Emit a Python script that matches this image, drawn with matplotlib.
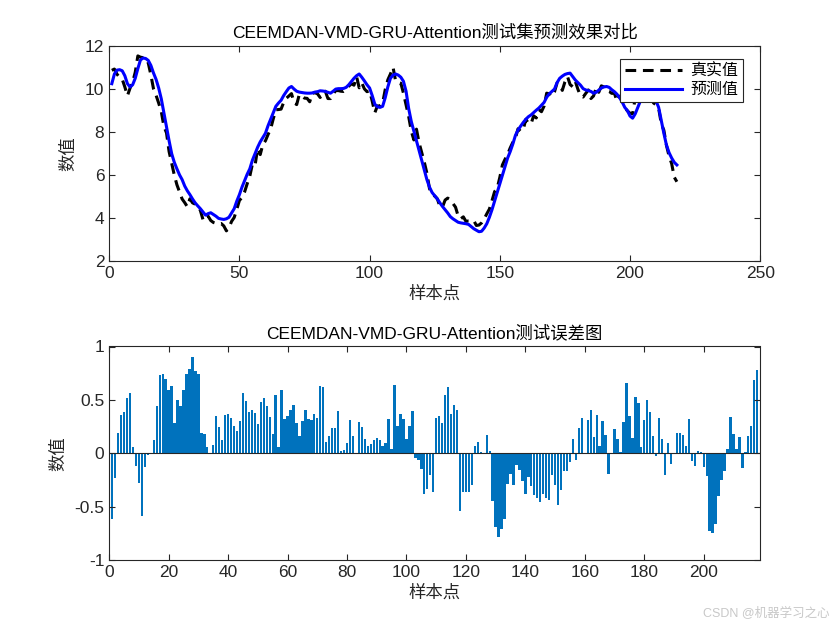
import numpy as np
import matplotlib.pyplot as plt

plt.rcParams['font.family'] = ['Liberation Sans', 'Noto Sans CJK SC', 'DejaVu Sans']
plt.rcParams['axes.unicode_minus'] = False

# values (samples 1..218)
pred_vals = [
    10.25, 10.70, 10.88, 10.90, 10.85, 10.62, 10.25, 10.10, 10.20, 10.50,
    10.95, 11.35, 11.44, 11.42, 11.33, 11.10, 10.75, 10.45, 10.05, 9.55,
    8.90, 8.25, 7.60, 7.00, 6.60, 6.30, 6.02, 5.80, 5.50, 5.28,
    5.10, 4.90, 4.72, 4.58, 4.45, 4.30, 4.15, 4.22, 4.26, 4.18,
    4.10, 4.00, 3.97, 3.95, 3.98, 4.05, 4.25, 4.45, 4.80, 5.10,
    5.45, 5.75, 6.05, 6.30, 6.70, 7.00, 7.30, 7.55, 7.75, 7.95,
    8.30, 8.60, 8.90, 9.20, 9.35, 9.48, 9.70, 9.88, 10.05, 10.12,
    10.00, 9.90, 9.86, 9.84, 9.82, 9.81, 9.81, 9.82, 9.86, 9.88,
    9.92, 9.91, 9.89, 9.85, 9.81, 9.90, 10.00, 10.02, 10.02, 10.03,
    10.08, 10.20, 10.35, 10.50, 10.62, 10.70, 10.55, 10.38, 10.20, 10.05,
    9.70, 9.30, 9.18, 9.15, 9.20, 9.60, 10.10, 10.50, 10.65, 10.70,
    10.65, 10.55, 10.36, 9.90, 9.10, 8.50, 8.05, 7.60, 7.15, 6.70,
    6.25, 5.80, 5.45, 5.20, 5.05, 4.90, 4.72, 4.55, 4.40, 4.25,
    4.08, 3.98, 3.90, 3.82, 3.79, 3.77, 3.75, 3.72, 3.62, 3.52,
    3.45, 3.38, 3.40, 3.55, 3.75, 4.05, 4.40, 4.80, 5.20, 5.60,
    6.00, 6.40, 6.80, 7.10, 7.45, 7.85, 8.10, 8.28, 8.45, 8.60,
    8.72, 8.80, 8.91, 9.02, 9.12, 9.25, 9.38, 9.62, 9.78, 9.89,
    10.00, 10.30, 10.50, 10.60, 10.68, 10.72, 10.74, 10.58, 10.42, 10.30,
    10.18, 10.02, 9.96, 9.93, 9.89, 9.81, 9.85, 9.95, 10.05, 10.10,
    10.12, 10.08, 9.97, 9.88, 9.76, 9.60, 9.40, 9.15, 9.00, 8.75,
    8.65, 8.85, 9.15, 9.45, 9.70, 9.85, 9.90, 9.85, 9.70, 9.45,
    9.15, 8.55, 7.95, 7.40, 7.05, 6.80, 6.60, 6.48,
]

true_vals = [
    10.87, 10.93, 10.69, 10.54, 10.46, 10.10, 9.69, 10.04, 10.32, 10.78,
    11.54, 11.48, 11.46, 11.42, 11.21, 10.66, 10.02, 9.71, 9.35, 8.96,
    8.27, 7.97, 7.10, 6.56, 6.01, 5.56, 5.23, 4.90, 4.73, 4.54,
    4.91, 4.72, 4.66, 4.58, 4.37, 3.95, 3.90, 4.10, 3.90, 3.81,
    3.77, 3.74, 3.76, 3.65, 3.42, 3.56, 3.86, 4.04, 4.42, 4.83,
    4.97, 5.23, 5.61, 5.96, 6.52, 6.45, 7.24, 6.96, 7.43, 7.60,
    7.89, 8.15, 8.62, 9.04, 9.05, 9.07, 9.38, 9.57, 9.68, 9.79,
    9.37, 9.28, 9.75, 9.68, 9.58, 9.57, 9.41, 9.80, 9.83, 9.78,
    9.61, 9.75, 9.90, 9.56, 9.56, 9.77, 9.93, 9.93, 9.90, 9.89,
    9.96, 10.13, 10.25, 10.18, 10.58, 10.06, 10.29, 10.01, 9.88, 9.92,
    9.44, 8.90, 9.22, 9.21, 9.35, 9.98, 10.43, 10.70, 11.01, 10.37,
    10.30, 10.27, 9.81, 9.28, 8.73, 8.05, 7.64, 8.14, 7.51, 7.06,
    6.61, 6.10, 5.38, 5.09, 5.04, 4.91, 4.55, 4.53, 4.85, 4.94,
    4.86, 4.69, 4.52, 4.11, 3.98, 4.07, 3.86, 3.88, 3.88, 3.90,
    3.67, 3.69, 3.79, 3.97, 4.21, 4.43, 4.82, 5.24, 5.40, 5.90,
    6.48, 6.74, 6.97, 7.27, 7.53, 7.72, 8.16, 8.04, 8.12, 8.60,
    8.41, 8.39, 8.76, 8.66, 9.05, 8.95, 9.21, 9.81, 9.78, 9.66,
    9.87, 10.29, 10.21, 9.94, 10.33, 10.58, 10.21, 10.11, 10.36, 9.99,
    9.68, 9.63, 9.80, 9.96, 9.56, 9.68, 10.05, 9.85, 10.15, 10.10,
    9.93, 9.89, 9.80, 9.81, 9.44, 9.67, 9.52, 9.13, 8.99, 8.88,
    8.86, 9.58, 9.90, 10.11, 10.10, 10.10, 10.07, 9.81, 9.36, 9.27,
    9.11, 8.40, 8.09, 7.39, 6.89, 6.54, 5.91, 5.70,
]

err_vals = [
    -0.62, -0.23, 0.19, 0.36, 0.39, 0.52, 0.56, 0.06, -0.12, -0.28,
    -0.59, -0.13, -0.02, 0.00, 0.12, 0.44, 0.73, 0.74, 0.70, 0.59,
    0.63, 0.28, 0.50, 0.44, 0.59, 0.74, 0.79, 0.90, 0.77, 0.74,
    0.19, 0.18, 0.06, 0.00, 0.08, 0.35, 0.25, 0.12, 0.36, 0.37,
    0.33, 0.26, 0.21, 0.30, 0.56, 0.49, 0.39, 0.41, 0.38, 0.27,
    0.48, 0.52, 0.44, 0.34, 0.18, 0.55, 0.06, 0.59, 0.32, 0.35,
    0.41, 0.45, 0.28, 0.16, 0.30, 0.41, 0.32, 0.31, 0.37, 0.33,
    0.63, 0.62, 0.11, 0.16, 0.24, 0.24, 0.40, 0.02, 0.03, 0.10,
    0.31, 0.16, -0.01, 0.29, 0.25, 0.13, 0.07, 0.09, 0.12, 0.14,
    0.12, 0.07, 0.10, 0.32, 0.04, 0.64, 0.26, 0.37, 0.32, 0.13,
    0.26, 0.40, -0.04, -0.06, -0.15, -0.38, -0.33, -0.20, -0.36, 0.33,
    0.35, 0.28, 0.55, 0.62, 0.37, 0.45, 0.41, -0.54, -0.36, -0.36,
    -0.36, -0.30, 0.07, 0.11, 0.01, -0.01, 0.17, 0.02, -0.45, -0.69,
    -0.78, -0.71, -0.62, -0.29, -0.19, -0.30, -0.11, -0.16, -0.26, -0.38,
    -0.22, -0.31, -0.39, -0.42, -0.46, -0.38, -0.42, -0.44, -0.20, -0.30,
    -0.48, -0.34, -0.17, -0.17, -0.08, 0.13, -0.06, 0.24, 0.33, 0.00,
    0.31, 0.41, 0.15, 0.36, 0.07, 0.30, 0.17, -0.19, 0.00, 0.23,
    0.13, 0.01, 0.29, 0.66, 0.35, 0.14, 0.53, 0.47, 0.06, 0.31,
    0.50, 0.39, 0.16, -0.03, 0.33, 0.13, -0.20, 0.10, -0.10, 0.00,
    0.19, 0.19, 0.17, 0.07, 0.32, -0.07, -0.12, 0.02, 0.01, -0.13,
    -0.21, -0.73, -0.75, -0.66, -0.40, -0.25, -0.17, 0.04, 0.34, 0.18,
    0.04, 0.15, -0.14, 0.01, 0.16, 0.26, 0.69, 0.78,
]

title_top = 'CEEMDAN-VMD-GRU-Attention测试集预测效果对比'
title_bottom = 'CEEMDAN-VMD-GRU-Attention测试误差图'
legend_labels = ['真实值', '预测值']
err_ticks = [-1, -0.5, 0, 0.5, 1]
err_tick_labels = ['-1', '-0.5', '0', '0.5', '1']

axis_color = '#262626'
fs = 12.5

x = np.arange(1, len(pred_vals) + 1)

fig = plt.figure(figsize=(8.4, 6.3), dpi=100)


def style_axes(ax):
    for s in ax.spines.values():
        s.set_color(axis_color)
        s.set_linewidth(0.8)
    ax.tick_params(direction='in', top=True, right=True, length=4,
                   width=0.8, colors=axis_color, labelsize=fs)
    ax.set_xlabel('样本点', fontsize=fs, color=axis_color, labelpad=3)
    ax.set_ylabel('数值', fontsize=fs, color=axis_color, labelpad=6)


# top: true vs predicted
ax1 = fig.add_axes([0.13, 0.585, 0.775, 0.342])
ax1.plot(x, true_vals, color='black', linestyle='--', linewidth=2.2,
         dashes=(3.5, 2.2), label=legend_labels[0])
ax1.plot(x, pred_vals, color='blue', linewidth=2.2, label=legend_labels[1])
ax1.set_xlim(0, 250)
ax1.set_ylim(2, 12)
ax1.set_xticks(range(0, 251, 50))
ax1.set_yticks(range(2, 13, 2))
style_axes(ax1)
ax1.set_title(title_top, fontsize=fs, color='black', pad=6)
leg = ax1.legend(loc='upper right', bbox_to_anchor=(0.974, 0.94),
                 fontsize=fs - 1, handlelength=3.6, fancybox=False,
                 framealpha=1, edgecolor=axis_color, borderpad=0.3,
                 labelspacing=0.2, handletextpad=0.5, borderaxespad=0)
leg.get_frame().set_linewidth(0.8)

# bottom: error bars
ax2 = fig.add_axes([0.13, 0.111, 0.775, 0.339])
ax2.bar(x, err_vals, width=0.8, color='#0072BD', linewidth=0)
ax2.axhline(0, color=axis_color, linewidth=0.8)
ax2.set_xlim(0, len(err_vals) + 1)
ax2.set_ylim(-1, 1)
ax2.set_xticks(range(0, 201, 20))
ax2.set_yticks(err_ticks)
ax2.set_yticklabels(err_tick_labels)
style_axes(ax2)
ax2.set_title(title_bottom, fontsize=fs, color='black', pad=6)

fig.text(0.988, 0.018, 'CSDN @机器学习之心', ha='right', va='bottom',
         fontsize=9, color='#c8c8c8')

fig.savefig('out.png', dpi=100)
